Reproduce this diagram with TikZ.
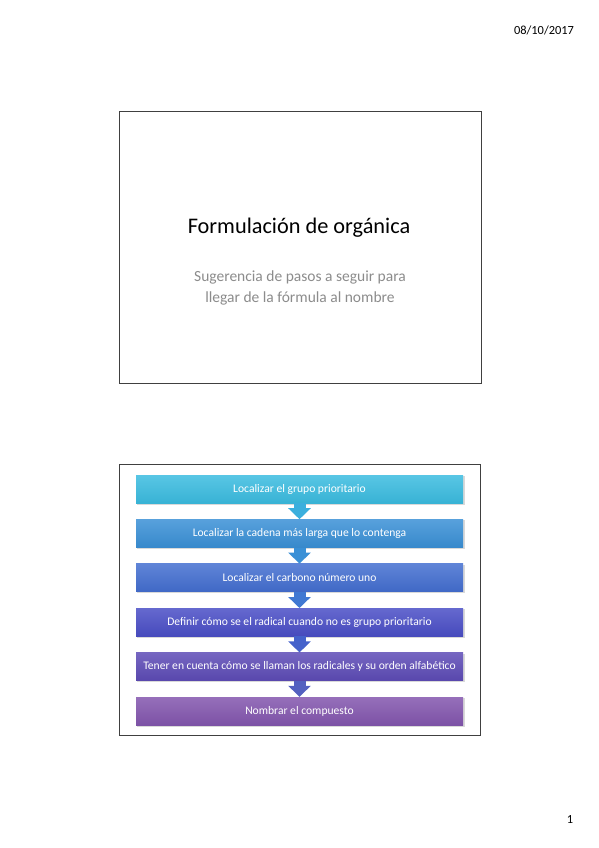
\documentclass[tikz,border=0pt]{standalone}
\usepackage{fontspec}
\setmainfont{Carlito}
\usetikzlibrary{arrows.meta}
\definecolor{pasoA}{HTML}{3BBCE0}
\definecolor{pasoB}{HTML}{3A90D6}
\definecolor{pasoC}{HTML}{436ED0}
\definecolor{pasoD}{HTML}{4A4EC6}
\definecolor{pasoE}{HTML}{5D4BB6}
\definecolor{pasoF}{HTML}{8356AE}
\definecolor{marco}{HTML}{404040}
\definecolor{subgris}{HTML}{8C8C8C}
\tikzset{
    diapo/.style={draw=marco, line width=1pt},
    paso/.style={minimum width=327pt, minimum height=28pt, inner sep=0pt,
        text=white, font=\fontsize{11.6}{13}\selectfont},
    flecha/.style={line width=12pt, -{Triangle[width=22pt,length=11pt]}}
}
\begin{document}
\begin{tikzpicture}[x=1pt, y=-1pt]
\useasboundingbox (0,0) rectangle (599,848);
\fill[white] (0,0) rectangle (599,848);
\node (fecha) at (544,30) {\fontsize{12.4}{14}\selectfont 08/10/2017};
\node (pagina) at (570,819) {\fontsize{12.4}{14}\selectfont 1};
% primera diapositiva
\draw[diapo] (119,112) rectangle (481,383);
\node (titulo) at (299,228) {\fontsize{22.3}{26}\selectfont Formulación de orgánica};
\node (subtitulo) at (300,288)[align=center, text=subgris, font=\fontsize{15.5}{21}\selectfont]
    {Sugerencia de pasos a seguir para\\llegar de la fórmula al nombre};
% segunda diapositiva
\draw[diapo] (119,464) rectangle (480,735);
\foreach \n/\c/\t in {1/pasoA/Localizar el grupo prioritario,
    2/pasoB/Localizar la cadena más larga que lo contenga,
    3/pasoC/Localizar el carbono número uno,
    4/pasoD/Definir cómo se el radical cuando no es grupo prioritario,
    5/pasoE/Tener en cuenta cómo se llaman los radicales y su orden alfabético,
    6/pasoF/Nombrar el compuesto}
{
    \fill[black!15] (137,{489+44.4*(\n-1)-13}) rectangle (464.5,{489+44.4*(\n-1)+15.5});
    \node[paso, top color=\c!85!white, bottom color=\c!95!black] (p\n) at (299.5,{489+44.4*(\n-1)}) {\t};
}
\foreach \a/\b/\c in {1/2/pasoA, 2/3/pasoB, 3/4/pasoC, 4/5/pasoD, 5/6/pasoE}
{
    \draw[flecha, \c!70!pasoB] (p\a.south) -- (p\b.north);
}
\end{tikzpicture}
\end{document}
